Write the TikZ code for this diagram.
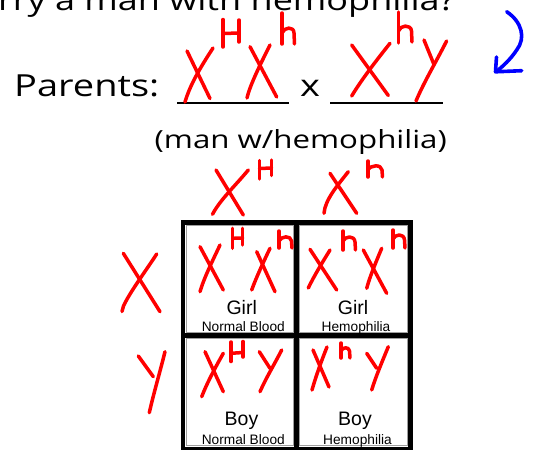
\documentclass[tikz,border=0pt]{standalone}
\usepackage{fontspec}
\setmainfont{Open Sans}
\newfontfamily\arialf{Liberation Sans}
\begin{document}
\begin{tikzpicture}[x=1pt,y=-1pt,
  pen/.style={draw=red, line width=3.5pt, line cap=round, line join=round},
  bluepen/.style={draw=blue, line width=3.6pt, line cap=round, line join=round},
  uline/.style={draw=black, line width=1.8pt},
  gridline/.style={draw=black, line width=4.5pt, line cap=rect},
  cellbox/.style={draw=gray!75, line width=0.8pt, minimum width=107.1pt, minimum height=106.6pt, inner sep=0pt},
  bigtxt/.style={inner sep=0pt, font=\fontsize{30.4}{36}\selectfont},
  toptxt/.style={inner sep=0pt, font=\fontsize{28.8}{34}\selectfont},
  midtxt/.style={inner sep=0pt, font=\fontsize{25}{30}\selectfont},
  sextxt/.style={inner sep=0pt, anchor=base, font=\arialf\fontsize{19.5}{23}\selectfont},
  smalltxt/.style={inner sep=0pt, anchor=base, font=\arialf\fontsize{13.7}{16}\selectfont}]
\useasboundingbox (0,0) rectangle (547,450);
\clip (0,0) rectangle (547,450);
\fill[white] (0,0) rectangle (547,450);

% texts
\node[toptxt, anchor=base west] (question) at (-2,10) {\scalebox{1.25}[1]{rry a man with hemophilia?}};
\node[bigtxt, anchor=base west] (parents) at (14,96.7) {\scalebox{1.25}[1]{Parents:}};
\node[bigtxt, anchor=base west] (times) at (300,96.7) {\scalebox{1.25}[1]{x}};
\node[midtxt, anchor=base west] (man) at (154.5,148.3) {\scalebox{1.25}[1]{(man w/hemophilia)}};
\draw[uline] (177,103.3) -- (289,103.3);
\draw[uline] (330,103.3) -- (443,103.3);

% grid
\node[cellbox] (c11) at (239.75,279) {};
\node[cellbox, minimum width=107.6pt] (c12) at (353.5,279) {};
\node[cellbox, minimum height=106.85pt] (c21) at (239.75,392.1) {};
\node[cellbox, minimum width=107.6pt, minimum height=106.85pt] (c22) at (353.5,392.1) {};
\draw[gridline] (183,222.5) rectangle (410.5,448.75);
\draw[gridline] (296.5,222.5) -- (296.5,448.75);
\draw[gridline] (183,335.5) -- (410.5,335.5);

\node[sextxt] (g1) at (241.7,314) {Girl};
\node[smalltxt] (n1) at (243.3,331.7) {Normal Blood};
\node[sextxt] (g2) at (353,314) {Girl};
\node[smalltxt] (h2) at (356,331.7) {Hemophilia};
\node[sextxt] (b1) at (241.5,425.7) {Boy};
\node[smalltxt] (n3) at (243.3,444) {Normal Blood};
\node[sextxt] (b2) at (355,425.7) {Boy};
\node[smalltxt] (h4) at (357.5,444) {Hemophilia};

% parents strokes
\draw[pen] (187,51) -- (210,98.5);
\draw[pen] (213,48) .. controls (200,68) and (190,85) .. (185,102);
\draw[pen] (223,19.5) -- (223,47);
\draw[pen] (239,20) -- (239,42);
\draw[pen] (223,33.5) -- (239,33);
\draw[pen] (250,46.7) -- (276.7,97);
\draw[pen] (270,45) .. controls (260,65) and (250,85) .. (247,98);
\draw[pen] (282,13) -- (282,44);
\draw[pen] (282,33) .. controls (284,27) and (294,26) .. (294,33) -- (294.5,44);
\draw[pen] (351.7,45) -- (388.3,95.5);
\draw[pen] (390,43.3) .. controls (375,62) and (360,82) .. (351.7,96);
\draw[pen] (398.5,12) -- (398.5,43);
\draw[pen] (398.5,31) .. controls (400,25) and (411,24) .. (411.5,31) -- (412,42);
\draw[pen] (424,40) -- (434,64.5);
\draw[pen] (446.6,41) .. controls (436,62) and (424,82) .. (416,101);

% blue arrow
\draw[bluepen] (506.7,11.7) .. controls (522,22) and (526,38) .. (516.7,50) .. controls (510,60) and (503,66) .. (496.5,71.5);
\draw[bluepen] (496.5,57) -- (495.5,71.8) -- (521.7,70.7);

% column headers
\draw[pen] (216,170) -- (243.3,215);
\draw[pen] (248.3,170) .. controls (235,186) and (220,200) .. (212.5,214.3);
\draw[pen] (259.5,160.5) -- (259.5,179);
\draw[pen] (271.5,160) -- (271.5,175.5);
\draw[pen] (259.5,168.5) -- (271.5,168);
\draw[pen] (330,173.3) -- (356.7,213.3);
\draw[pen] (348.3,171.7) .. controls (337,186) and (325,200) .. (324,213.3);
\draw[pen] (368,161) -- (368,177);
\draw[pen] (368,170) .. controls (370,165) and (381.5,164) .. (382,170) -- (382.5,177);

% row headers
\draw[pen] (123.3,253.3) -- (160,311.7);
\draw[pen] (156.7,254) .. controls (145,272) and (130,292) .. (123.5,306) -- (122,311.5);
\draw[pen] (138.3,356) -- (153.3,376.7);
\draw[pen] (165,351.7) .. controls (160,372) and (154,392) .. (149.3,412.7);

% cell 1,1
\draw[pen] (200,246.7) -- (223.3,290);
\draw[pen] (220,245) .. controls (212,262) and (204,278) .. (200,291.7);
\draw[pen] (232.7,228.3) -- (232.7,248.3);
\draw[pen] (242.7,228.3) -- (242.7,245);
\draw[pen] (232.7,238.3) -- (242.7,238);
\draw[pen] (256.7,251.7) -- (275,291.7);
\draw[pen] (270,248.3) .. controls (263,263) and (256,278) .. (251.7,290);
\draw[pen] (279,231) -- (279,248);
\draw[pen] (279,241) .. controls (281,236) and (291,235) .. (291.5,241) -- (292,248);

% cell 1,2
\draw[pen] (310,249.3) -- (336.7,290);
\draw[pen] (330,250) .. controls (322,263) and (314,276) .. (308.3,288);
\draw[pen] (343,231) -- (343,250);
\draw[pen] (343,241) .. controls (345,236) and (354.5,235) .. (355,242) -- (355.5,250);
\draw[pen] (363.3,250) -- (386.7,293.3);
\draw[pen] (381.7,248.3) .. controls (376,262) and (370,276) .. (366.7,288.3);
\draw[pen] (393,230) -- (393,248);
\draw[pen] (393,239) .. controls (395,234) and (404,233) .. (404.5,240) -- (405,248);

% cell 2,1
\draw[pen] (205,351.7) -- (223.3,391.7);
\draw[pen] (223.3,353.3) .. controls (215,368) and (207,383) .. (201.7,396.7);
\draw[pen] (231,342) -- (231,361.5);
\draw[pen] (243,341.5) -- (243,357);
\draw[pen] (231,353.3) -- (243,352.5);
\draw[pen] (259.3,351.7) -- (270,368.3);
\draw[pen] (281.7,350) .. controls (274,365) and (266,378) .. (260,391.7);

% cell 2,2
\draw[pen] (313,350) -- (329,387);
\draw[pen] (327,347) .. controls (321,362) and (316,376) .. (312,390);
\draw[pen] (341,343) -- (341,358);
\draw[pen] (341,351) .. controls (342.5,347) and (349,346.5) .. (349.5,351) -- (350,358);
\draw[pen] (366.7,353.3) -- (376.7,368.3);
\draw[pen] (388.3,346.7) .. controls (382,362) and (376,376) .. (371.7,390);
\end{tikzpicture}
\end{document}
